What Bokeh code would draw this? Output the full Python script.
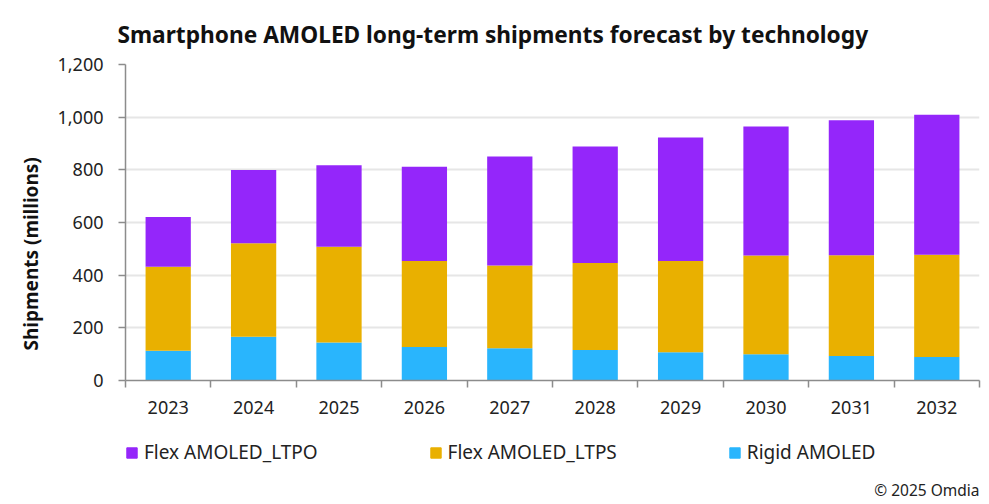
from bokeh.plotting import figure
from bokeh.layouts import column
from bokeh.models import Range1d, FixedTicker, NumeralTickFormatter, Legend, LegendItem, Label, Title, ColumnDataSource
from bokeh.embed import file_html
from bokeh.resources import INLINE

years = ["2023", "2024", "2025", "2026", "2027", "2028", "2029", "2030", "2031", "2032"]
rigid = [113, 166, 144, 127, 122, 116, 107, 100, 93, 89]
ltps = [319, 355, 364, 327, 315, 330, 347, 375, 383, 389]
ltpo = [189, 278, 309, 358, 414, 443, 469, 490, 512, 531]
series = ["Rigid AMOLED", "Flex AMOLED_LTPS", "Flex AMOLED_LTPO"]
colors = ["#29B5FD", "#E9B000", "#9426FA"]
y_ticks = [0, 200, 400, 600, 800, 1000, 1200]

FONT = "Noto Sans"
W = 989
LEFT, RIGHT = 125, 10
centers = [i + 0.5 for i in range(len(years))]
src = ColumnDataSource(dict(x=centers, **{series[0]: rigid, series[1]: ltps, series[2]: ltpo}))

p = figure(width=W, height=430, output_backend="svg", toolbar_location=None,
           x_range=Range1d(0, len(years)), y_range=Range1d(0, 1200),
           min_border_left=LEFT, min_border_right=RIGHT, min_border_top=64, min_border_bottom=50)
p.outline_line_color = None

p.title.text = "Smartphone AMOLED long-term shipments forecast by technology"
p.title.text_font = FONT
p.title.text_font_size = "22.7px"
p.title.text_font_style = "bold"
p.title.text_color = "#111111"
p.title.offset = -8
p.title.standoff = 30

p.vbar_stack(series, x="x", width=0.53, source=src, color=colors, line_color=None)

# x axis: labels at bar centres, tick marks at category boundaries
p.xaxis.ticker = FixedTicker(ticks=centers, minor_ticks=list(range(len(years) + 1)))
p.xaxis.major_label_overrides = {c: y for c, y in zip(centers, years)}
p.xaxis.major_tick_out = 0
p.xaxis.major_tick_in = 0
p.xaxis.minor_tick_out = 7
p.xaxis.minor_tick_in = 0
p.xaxis.minor_tick_line_color = "#8c8c8c"
p.xaxis.minor_tick_line_width = 1.5
p.xaxis.major_label_standoff = 13
p.xgrid.visible = False

p.yaxis.ticker = FixedTicker(ticks=y_ticks)
p.yaxis.formatter = NumeralTickFormatter(format="0,0")
p.yaxis.minor_tick_line_color = None
p.yaxis.major_tick_out = 7
p.yaxis.major_tick_in = 0
p.yaxis.major_tick_line_color = "#8c8c8c"
p.yaxis.major_tick_line_width = 1.5
p.yaxis.major_label_standoff = 15
p.ygrid.grid_line_color = "#e6e6e6"
p.ygrid.grid_line_width = 2

for ax in (p.xaxis, p.yaxis):
    ax.axis_line_color = "#8c8c8c"
    ax.axis_line_width = 1.5
    ax.major_label_text_font = FONT
    ax.major_label_text_font_size = "18px"
    ax.major_label_text_color = "#222222"

# y axis title sits a little below the frame centre in the original
p.add_layout(Title(text="Shipments (millions)", align="left", offset=30, standoff=22,
                   text_font=FONT, text_font_size="19px", text_font_style="bold",
                   text_color="#111111"), "left")

# legend strip + source note underneath the chart (frame aligned with the chart above)
QH = 70
q = figure(width=W, height=QH, output_backend="svg", toolbar_location=None,
           x_axis_location=None, y_axis_location=None,
           x_range=Range1d(LEFT, W - RIGHT), y_range=Range1d(0, QH),
           min_border_left=LEFT, min_border_right=RIGHT, min_border_top=0, min_border_bottom=0)
q.outline_line_color = None
q.grid.visible = False
swatches = [q.vbar(x=[0], top=[0], width=0, color=c) for c in colors]
legend = Legend(items=[LegendItem(label=series[i], renderers=[swatches[i]]) for i in (2, 1, 0)],
                orientation="horizontal", location=(0, 35),
                glyph_width=13, glyph_height=13, label_standoff=6,
                spacing=111, padding=0, margin=0,
                label_text_font=FONT, label_text_font_size="19px", label_text_color="#222222",
                border_line_color=None, background_fill_alpha=0)
q.add_layout(legend, "center")
q.add_layout(Label(x=W - RIGHT, y=11, text="© 2025 Omdia", text_align="right", text_baseline="middle",
                   text_font=FONT, text_font_size="15.5px", text_color="#222222"))

open("out.html", "w").write(file_html(column(p, q, spacing=0), INLINE))
